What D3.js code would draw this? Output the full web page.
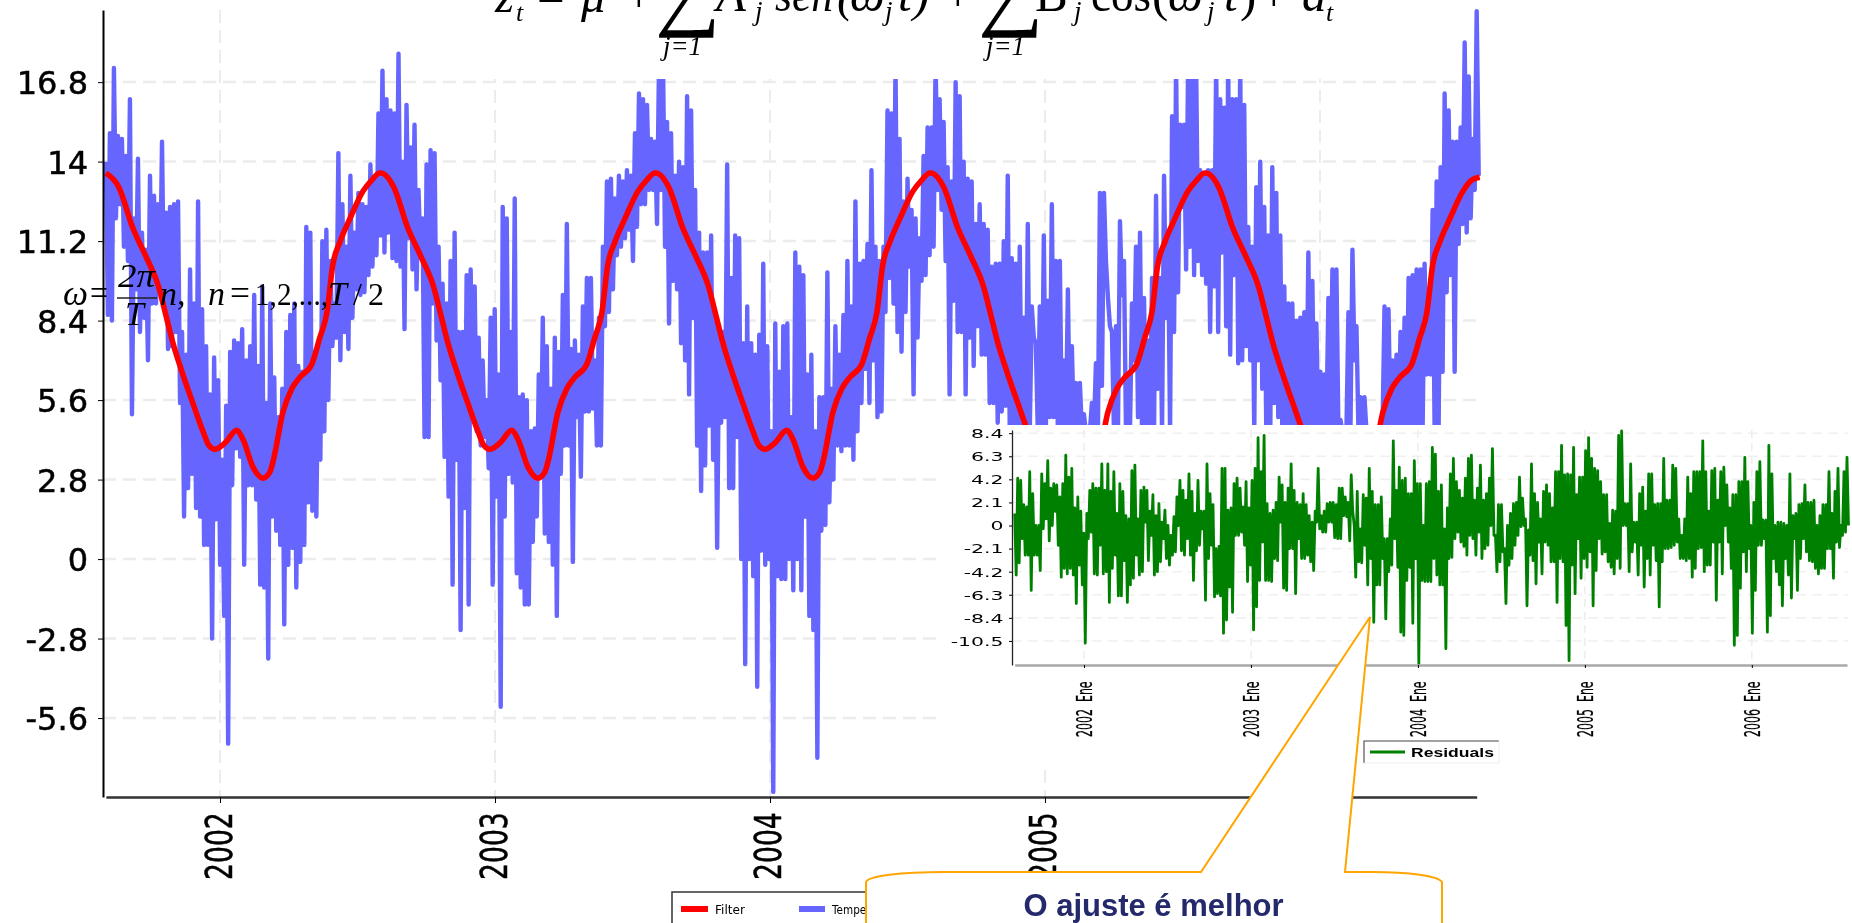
<!DOCTYPE html>
<html><head><meta charset="utf-8">
<script src="https://cdn.jsdelivr.net/npm/d3@7/dist/d3.min.js"></script>
<style>html,body{margin:0;background:#fff;overflow:hidden}svg{display:block;filter:blur(.45px)}</style>
</head><body><svg id="c" width="1852" height="923"></svg>
<script>
const mainYTicks=[-5.6,-2.8,0,2.8,5.6,8.4,11.2,14,16.8];
const mainYears=[2002,2003,2004,2005,2006];
const residualYTicks=[-10.5,-8.4,-6.3,-4.2,-2.1,0,2.1,4.2,6.3,8.4];
const residualYears=[2002,2003,2004,2005,2006];
const firstDate=2001.585, lastDate=2006.57;

// temperature envelope: successive upper and lower swings
const tempHigh=[
14,15,17.3,14.9,14.8,14.2,16.2,12,14.1,11.5,10.9,13.5,12.8,12.5,14.7,12.2,12.4,12.5,12.6,8,7.2,10.2,9,12.6,8.8,7.5,5.8,7.1,6.3,3.5,5.4,7.3,7.7,7.6,8.1,7,7.5,9.3,6.8,9.6,5.5,9,6.4,5,6,8,8.6,9,6.8,6.6,11.7,11.5,7.3,7.5,11.2,11.6,10.5,9,14.3,12.5,11,13.5,11.5,12.9,12.5,12.4,13.9,13.3,15.7,17.2,16.2,15.8,15.7,17.8,14,16,14.5,15.3,13,12,13.9,14.4,14.3,11,9.7,9,10.5,11.5,8,8,10,10.2,9.6,7.8,7,5.6,8.5,8.8,6.5,
12.4,12,8,12.7,5.7,5.8,5.6,4.5,4.6,6.5,8.5,7.5,6,7.8,7.3,9.3,11.8,7.4,7.7,7.2,8.9,9.9,9.9,7,8.5,11,13.3,13.4,12.7,13.5,13.3,13.7,13.5,15,16.4,16.2,16,14.8,14.7,17.5,17.5,15.4,15,13.5,14,13.8,16.3,15.8,13,11.5,10.8,10.8,11.4,8.5,8,8,13.9,9.9,11.4,11.3,7.6,8.9,7.6,7.2,7.9,10.4,7.5,4.5,8.3,6.6,8.2,8.3,5,10.8,10.3,10,6.5,7.2,4.5,5.7,5.7,10.1,6,8.2,7.2,8.6,10.5,8.9,12.6,10.4,10.5,11.1,13.7,11,10.5,11,15.8,15.7,17.5,14.8,12.6,13.4,12.3,12,11.3,14.2,15.2,15.2,17.5,16.2,15.4,13.8,
13.3,16.8,16.3,14,13.4,13.3,11.8,12.5,11.8,11.6,
10.3,10.4,10.4,11.2,13.5,10.6,10.4,11,8.5,11.8,
8.9,7.6,8.9,11.4,9.1,12.5,10.5,10.5,7,9.5,
7.5,6.2,6.2,5.1,4.5,5.5,6.9,12.9,12.9,9.2,
8,8.2,11.9,10.5,6.5,9,11,11.5,9.2,7.7,
9.9,12.8,9.9,13.5,11.5,15.6,17.5,15.3,15.3,17.5,
17.5,17.5,13.7,13.5,13.7,13.7,17.5,16.2,15.9,17.5,
16.2,16.2,17.5,16,11.7,11,13.1,14,12.4,11.4,
13.8,12.9,11.4,9.6,9,9,8.4,8.5,8.7,10.8,
9.8,8.3,6.6,6.5,9.2,10.2,10.2,4.9,4.5,8.7,
10.9,8.2,5.7,5.7,4.5,4.5,4.5,4.5,8.9,8.8,
7,7.2,8,8.5,9.9,10,10.2,10.2,10.4,9.4,
12.3,13.3,13.8,16.4,15.8,14.7,14.7,15.2,18.2,17,14.8,19.3];
const tempLow=[
8.6,8.4,12,12.5,11,10.5,5.1,9.5,8,8.5,7,9,9,9.5,9,7.4,7.5,8,5.5,1.5,2.5,3,1.8,1.5,.5,.5,-2.8,1.4,-.2,-2,-6.5,2.6,3.9,3.6,-.2,2.6,2.6,2.1,-.9,-1,-3.5,1.5,1,.5,-2.3,-.2,.4,-1,-.1,.5,2,1.7,1.5,3.5,4.5,5.6,7.5,7.8,7,8,7.4,8.5,9.5,9.3,9.4,10,10.3,10.7,11.4,10.8,11.5,10.6,10.5,10.3,8.1,11.3,10.2,9.5,10.6,4.3,4.3,9,7.7,6.3,3.6,2.2,-.9,3.5,-2.5,1.8,-1.6,5,4.5,4,4.3,3.2,-.9,2.2,-5.2,
1.5,3,2.7,-.5,-1,-1.6,-1.6,.6,1.5,2.9,.9,.6,-.2,-2,3,4,4,-.1,5,2.9,5.2,5.2,5.3,4,4,8.2,8.7,9.5,10.7,11,11.3,11.6,10.5,11.7,12.5,12.5,13,13,11.8,13,11,8.3,9.8,9.5,7.6,7,5.8,8.5,4,2.4,3.3,4.7,3.5,.4,4.8,5,2.5,2.5,4.3,0,-3.7,0,-.6,-4.5,.3,-.2,0,-8.2,-.6,-.7,-.7,0,-1.1,0,-1.1,1.5,-2,-2.5,-7,1,1.2,2,2.8,4,3.8,4,4,3.5,4.5,5.5,6.7,5.5,7,5,5.2,8.7,9.9,9,8,7.3,8.7,10.3,5.8,7.8,9.8,10,10.7,11,13,12.3,10.5,5.8,
9.1,8,8,5.8,7.8,6.8,8.2,7.2,7.2,5.5,
5.5,4.8,5.2,5.4,4.5,4.5,4.5,4.5,4.5,4.5,
7.8,4.5,4.5,4.5,5,5,4.5,4.5,4.5,4.5,
4.5,4.5,4.5,4.5,4.5,4.5,4.5,6.1,10.5,8.2,
4.5,4.5,9.3,4.5,4.5,7,5,4.5,4.5,4.5,
4.5,6,4.5,8.5,4.5,8,9.4,12.4,10.2,11,
10,10.5,10,9.7,8,9.6,8,10.8,8.2,7.2,
10,6.9,7,7.5,7,4.5,7,6,4.5,4.5,
5.5,5,4.5,4.5,4.5,4.5,4.5,4.5,4.5,4.5,
4.5,4.5,4.5,4.5,4.5,4.5,4.5,4.5,4.5,4.5,
7,4.5,4.5,4.5,4.5,4.5,4.5,4.5,4.5,4.5,
4.5,4.5,4.5,4.5,4.5,4.5,4.5,4.5,6.5,6.5,
4.5,4.5,6.6,9.4,10,6.6,11.1,11.8,11.5,12,13,13.5];

// filter curve: offsets within each yearly cycle, then the values read for the five cycles
const filterOffsets=[0,.047,.098,.145,.193,.218,.244,.28,.316,.353,.375,.396,.433,.476,.498,.535,.571,.596,.607,.644,.676,.705,.749,.778,.804,.825,.851,.887,.935,.967,.996];
const filterTemps=[
13.6,13.1,11.66,10.67,9.55,8.6,7.6,6.5,5.5,4.5,4,3.87,4.09,4.54,4.23,3.24,2.85,3.06,3.4,5.18,6,6.4,6.87,7.8,8.7,10.36,11.17,11.98,12.96,13.35,13.6,
13.6,13.1,11.66,10.67,9.55,8.6,7.6,6.5,5.5,4.5,4,3.87,4.09,4.54,4.23,3.24,2.85,3.06,3.4,5.18,6,6.4,6.87,7.8,8.7,10.36,11.17,11.98,12.96,13.35,13.6,
13.6,13.1,11.66,10.67,9.55,8.6,7.6,6.5,5.5,4.5,4,3.87,4.09,4.54,4.23,3.24,2.85,3.06,3.4,5.18,6,6.4,6.87,7.8,8.7,10.36,11.17,11.98,12.96,13.35,13.6,
13.6,13.1,11.66,10.67,9.55,8.6,7.6,6.5,5.5,4.5,4,3.87,4.09,4.54,4.23,3.24,2.85,3.06,3.4,5.18,6,6.4,6.87,7.8,8.7,10.36,11.17,11.98,12.96,13.35,13.6,
13.6,13.1,11.66,10.67,9.55,8.6,7.6,6.5,5.5,4.5,4,3.87,4.09,4.54,4.23,3.24,2.85,3.06,3.4,5.18,6,6.4,6.87,7.8,8.7,10.36,11.17,11.98,12.96,13.35,13.45];

const residHigh=[
1.1,4.3,4.1,1.9,1.7,4.9,2.9,0,0,4.7,3.8,5.9,3.4,3.8,3.7,2.6,3.8,6.4,4.4,5.2,1.6,2.6,1.3,-.7,1.1,3.2,3.8,3.4,3.4,5.6,3.2,5.6,3.1,4.9,1.1,3.8,3.1,.9,.6,5,5.5,.6,3.2,3.5,3.2,1.3,2.8,.9,2,.3,1.4,0,-.9,.8,2.6,4.1,3.2,2.3,4.7,3.1,1.1,4.1,1.3,1.3,5.6,2.9,1.9,-2.1,-1.9,5.2,5.2,1.4,1.6,3.8,4.3,3.4,1.7,4,1.6,4.1,5.2,8,4.9,8.2,2,1.1,1.4,2.1,4.4,3.7,2.1,3.4,5.6,3.2,2.1,1.9,2.9,1.9,.9,.3,1.3,5.2,.9,1.3,2,2.1,2.1,1.9,3.4,3.4,2.6,2.1,4.6,0,3.1,-.3,2.8,2.5,5.2,3.1,1.9,1.9,2.6,-1.2,-1.2,.6,7.7,3.2,5.3,4.1,4.3,2.9,2.9,5.9,3.8,3.8,0,3.8,
4,7.1,6.5,3.1,3.7,-.3,1.6,4.7,6.1,4,3.2,2.5,4.3,6.1,6.4,2.3,3.4,5.5,2.3,2.9,4.3,7,-.9,1.9,1.9,-2.1,0,1.1,2,2.1,4.4,2.5,.6,-.4,5.6,2.9,2.1,.6,3.1,3.7,2.9,1.6,4.9,4.9,7.3,4.6,4.7,4.6,7.1,2.8,4.4,4.4,6.8,8,6.1,5.2,5,4,2.8,2.8,.2,1.4,1.3,8.2,8.6,2,2,5.6,.3,.3,2.9,3.5,1.3,4.7,4.7,1.9,2,2,6.1,2.3,2.3,5.5,5.2,.6,-.9,.6,4.4,2.9,4.9,4.9,4.9,7.7,4.9,1.3,5,5.2,2.3,4.9,5.3,3.7,1.6,2.8,2.8,4,4,6.2,4,0,2.1,4.9,5.8,.5,.5,7.3,4.7,0,.3,.3,.2,0,4.7,.9,1.1,1.9,2,3.7,2.1,2.1,2.3,0,.9,1.9,1.9,4.9,1.1,3.1,5.2,0,4.9,6.2];
const residLow=[
-4.5,-3.4,-1.2,-2.7,-2.7,-5.9,-2.7,-2.7,-4.1,-.3,.6,-1.4,0,1.3,-1.8,-4.7,-3.9,-4.4,-3.9,-4.5,-7.1,-3.6,-5.4,-10.7,-1.2,-.6,-4.4,-4.5,-1.8,-4.4,-4.2,-7,-3.9,-2.7,-6.4,-6.4,-3.2,-7,-5.4,-4.8,-2.7,-4.5,-4.2,.3,-3.2,-.9,-4.5,-4.2,-3.3,-1.2,-3,-3.6,-2.7,-2.4,0,-2.3,-2.7,-1.2,-2.7,-5,-2.3,-1.8,-.3,-6.8,-3,-1.8,-6.5,-6.2,-6.4,-9.8,-8.6,-5.6,-7.9,-.9,-.9,-.6,-1.8,-5.1,-3.6,-9.5,-7.4,-5,-1.5,-5,-5,-5.1,-3,-3.2,.3,-5.7,-5.9,-2.1,-2.1,-6.2,-1.2,-3,-3,-2.7,-3.3,-4.1,.3,-.3,-.6,-.6,.3,.3,-1.1,-1.2,-1.2,.9,.8,-1.4,1.3,-4.7,-3.3,-3.4,-1.8,-5.4,-3,-8.8,-5.4,-5.4,-3,-8.5,-4.2,-3.6,-1.2,-3.8,-9.7,-10,-5,-3.8,-8.9,-3,-12.6,-5,-5.1,-5.1,
-5.1,-3,-4.5,-5.4,-5.4,-11.2,-3,-2.9,-1.2,-.6,-1.5,-1.9,-2.7,-.9,-1.2,-2.7,-.6,-3,-2.1,-1.8,0,-.9,-4.2,-3.3,-2.4,-7.1,-3.6,-3,-1.8,-.9,-.1,0,-7.3,-2.7,-3.2,-5.3,-1.5,-4.4,-1.5,-1.8,-3.3,-3.3,-7,-3,-3.3,-9.1,-12.3,-3.6,-6.2,-1.2,-4.8,-3,-3.8,-2.4,-7.3,-4.1,-1.2,-2.6,-2.4,-3.3,-3.8,-4.4,-3,-3.9,0,0,-4.2,-2.4,-1.5,-4.5,-1.8,-5.6,-3,-4.5,-1.8,-3.2,-7.4,-3.3,-2.1,-2.1,-2,-1.8,-1.5,-3,-3,-3.2,-3,-4.7,-3.9,-2.1,-2,-4.2,-3.6,-3.6,-1.5,-6.8,-1.5,-4.4,0,-1.5,-3.9,-10.9,-10,-5.7,-2.4,-4.2,-2.1,-9.8,-5.9,-1.8,-1.8,-1.2,-9.7,-8.2,-3,-4.2,-5.4,-7.3,-3,-4.5,-6.6,-1.2,-5.9,-3,-1.2,-2.4,-3.2,-3.3,-3.9,-4.4,-3.9,-3.9,-2.1,-2.1,-4.8,-1.5,-2,-.9,-.6,0];

const svg=d3.select('#c');
const SANS='"DejaVu Sans",sans-serif', SERIF='"Liberation Serif",serif', ARIAL='"Liberation Sans",Arial,sans-serif';

// ---- main chart ----
const x=d3.scaleLinear().domain([firstDate,lastDate]).range([105.9,1476.7]);
const y=d3.scaleLinear().domain([-8.38,19.34]).range([797,10]);
const gridColor='#ececec';
const g=svg.append('g');
g.append('g').selectAll('line').data(mainYTicks).join('line')
 .attr('x1',103).attr('x2',1478).attr('y1',d=>y(d)).attr('y2',d=>y(d))
 .attr('stroke',gridColor).attr('stroke-width',2.5).attr('stroke-dasharray','13 7');
g.append('g').selectAll('line').data(mainYears).join('line')
 .attr('y1',10).attr('y2',797).attr('x1',d=>x(d)).attr('x2',d=>x(d))
 .attr('stroke',gridColor).attr('stroke-width',2).attr('stroke-dasharray','13 7');

function zigzag(high,low,first,last){
  const n=Math.min(high.length,low.length), step=(last-first)/(n-1), pts=[];
  for(let i=0;i<n;i++){pts.push([first+i*step,high[i]]);pts.push([first+(i+.5)*step,low[i]]);}
  return pts;
}
const tempPts=zigzag(tempHigh,tempLow,firstDate,lastDate);
g.append('path').attr('d',d3.line().x(d=>x(d[0])).y(d=>y(d[1]))(tempPts))
 .attr('fill','none').attr('stroke','#6666ff').attr('stroke-width',4.4).attr('stroke-linejoin','round');

const filterPts=filterTemps.map((v,i)=>[firstDate+Math.floor(i/filterOffsets.length)+filterOffsets[i%filterOffsets.length],v]);
g.append('path').attr('d',d3.line().x(d=>x(d[0])).y(d=>y(d[1])).curve(d3.curveMonotoneX)(filterPts))
 .attr('fill','none').attr('stroke','#ff0000').attr('stroke-width',5.6).attr('stroke-linejoin','round');

// axes
const axL=g.append('g').attr('transform','translate(103,0)')
 .call(d3.axisLeft(y).tickValues(mainYTicks).tickFormat(String).tickSize(5).tickSizeOuter(0).tickPadding(10));
axL.select('.domain').attr('stroke','#000').attr('stroke-width',2);
axL.selectAll('text').attr('font-family',SANS).attr('font-size',32).attr('dy','.36em').attr('fill','#000').attr('stroke','#000').attr('stroke-width',.5);
const axB=g.append('g').attr('transform','translate(0,797)')
 .call(d3.axisBottom(x).tickValues(mainYears).tickFormat(String).tickSize(6).tickSizeOuter(0));
axB.select('.domain').attr('stroke','#333').attr('stroke-width',2.5);
axB.selectAll('text').attr('font-family',SANS).attr('font-size',37).attr('fill','#000').attr('stroke','#000').attr('stroke-width',.5)
 .attr('text-anchor','start').attr('x',0).attr('y',0).attr('dy',0)
 .attr('transform','translate(11,83) rotate(-90) scale(.72,1)');

// white plate behind the upper equation
svg.append('rect').attr('x',475).attr('y',0).attr('width',870).attr('height',79).attr('fill','#fff');

// upper equation: text, x, baseline, size, italic, optional fitted width
const eq=[['z',495,12,49,1],['t',516,21,26,1],['=',537,12,49,0],['μ',581,12,49,1],['+',625,12,49,0],
['∑',655,18,92,0],['A',716,11,49,1],['j',755,20,27,1],['sen',775,11,49,1,58],['(',837,11,49,1],['ω',850,11,49,1],['j',885,20,27,1],['t',898,11,49,1],[')',913,11,49,1],['+',944,11,49,0],
['∑',978,18,92,0],['B',1035,11,49,0],['j',1074,20,27,1],['cos',1091,11,49,0,60],['(',1152,11,49,0],['ω',1168,11,49,1],['j',1207,20,27,1],['t',1224,11,49,1],[')',1240,11,49,0],['+',1260,11,49,0],['a',1302,11,49,1],['t',1326,21,26,1],
['j=1',663,55,28,1,39],['j=1',986,55,28,1,39]];
svg.append('g').selectAll('text').data(eq).join('text').text(d=>d[0])
 .attr('x',d=>d[1]).attr('y',d=>d[2]).attr('font-size',d=>d[3]).attr('font-family',SERIF)
 .attr('font-style',d=>d[4]?'italic':'normal').attr('fill','#000')
 .attr('textLength',d=>d[5]||null).attr('lengthAdjust','spacingAndGlyphs');

// omega definition
const om=[['ω',63,305,36,1,25],['=',90,305,36,0,18],['2π',118,287,34,1,37],['T',125,325,34,1],['n,',160,305,34,1],['n',208,305,34,1],['=',230,305,36,0,20],['1,2,...,',255,305,32,0,73],['T',328,305,34,1],['/',353,305,32,0],['2',368,305,32,0]];
svg.append('g').selectAll('text').data(om).join('text').text(d=>d[0])
 .attr('x',d=>d[1]).attr('y',d=>d[2]).attr('font-size',d=>d[3]).attr('font-family',SERIF)
 .attr('font-style',d=>d[4]?'italic':'normal').attr('fill','#000')
 .attr('textLength',d=>d[5]||null).attr('lengthAdjust','spacingAndGlyphs');
svg.append('line').attr('x1',117).attr('x2',157).attr('y1',298).attr('y2',298).attr('stroke','#222').attr('stroke-width',1.4);

// main legend
const lg=svg.append('g');
lg.append('path').attr('d','M672,923V892H880').attr('fill','none').attr('stroke','#333').attr('stroke-width',1.5);
lg.append('rect').attr('x',681).attr('y',906).attr('width',27).attr('height',6).attr('fill','#ff0000');
lg.append('rect').attr('x',799).attr('y',906).attr('width',26).attr('height',6).attr('fill','#6666ff');
lg.append('text').text('Filter').attr('x',715).attr('y',914).attr('font-size',13).attr('font-family',SANS).attr('textLength',30).attr('lengthAdjust','spacingAndGlyphs');
lg.append('text').text('Temperature').attr('x',832).attr('y',914).attr('font-size',13).attr('font-family',SANS).attr('textLength',66).attr('lengthAdjust','spacingAndGlyphs');

// ---- residuals inset ----
svg.append('rect').attr('x',943).attr('y',425).attr('width',909).attr('height',341).attr('fill','#fff');
const rx=d3.scaleLinear().domain([firstDate,lastDate]).range([1014.7,1847]);
const ry=d3.scaleLinear().domain([-12.69,8.69]).range([665,430]);
const ins=svg.append('g');
ins.append('g').selectAll('line').data(residualYTicks).join('line')
 .attr('x1',1012).attr('x2',1848).attr('y1',d=>ry(d)).attr('y2',d=>ry(d))
 .attr('stroke','#f0f0f0').attr('stroke-width',1.6).attr('stroke-dasharray','10 6');
ins.append('g').selectAll('line').data(residualYears).join('line')
 .attr('y1',430).attr('y2',665).attr('x1',d=>rx(d)).attr('x2',d=>rx(d))
 .attr('stroke','#ececec').attr('stroke-width',1.4).attr('stroke-dasharray','8 5');
const resPts=zigzag(residHigh,residLow,firstDate,lastDate);
ins.append('path').attr('d',d3.line().x(d=>rx(d[0])).y(d=>ry(d[1]))(resPts))
 .attr('fill','none').attr('stroke','#008000').attr('stroke-width',2.8).attr('stroke-linejoin','round');
const rL=ins.append('g').attr('transform','translate(1012,0)')
 .call(d3.axisLeft(ry).tickValues(residualYTicks).tickFormat(String).tickSize(3).tickSizeOuter(0).tickPadding(0));
rL.select('.domain').attr('stroke','#222').attr('stroke-width',1.3);
rL.selectAll('text').attr('font-family',SANS).attr('font-size',12).attr('dy','.36em').attr('fill','#000')
 .attr('transform','scale(1.7,1)').attr('x',-5);
const rB=ins.append('g').attr('transform','translate(0,665)')
 .call(d3.axisBottom(rx).tickValues(residualYears).tickFormat(d=>d+'  Ene').tickSize(3).tickSizeOuter(0));
rB.select('.domain').attr('stroke','#a8a8a8').attr('stroke-width',2.4);
rB.selectAll('text').attr('font-family',SANS).attr('font-size',22).attr('fill','#000').attr('stroke','#000').attr('stroke-width',.3)
 .attr('text-anchor','start').attr('x',0).attr('y',0).attr('dy',0).style('white-space','pre')
 .attr('transform','translate(8,72) rotate(-90) scale(.5,1)');
// residuals legend
const rg=ins.append('g');
rg.append('path').attr('d','M1364,763V741H1499').attr('fill','none').attr('stroke','#444').attr('stroke-width',1.1);
rg.append('path').attr('d','M1499,741V763H1364').attr('fill','none').attr('stroke','#eee').attr('stroke-width',1);
rg.append('line').attr('x1',1370).attr('x2',1405).attr('y1',752).attr('y2',752).attr('stroke','#008000').attr('stroke-width',3);
rg.append('text').text('Residuals').attr('x',1411).attr('y',757).attr('font-size',13).attr('font-weight','bold').attr('font-family',ARIAL)
 .attr('textLength',83).attr('lengthAdjust','spacingAndGlyphs');

// ---- callout ----
svg.append('path').attr('d','M866,930V882C868,876 900,872 945,872H1201L1370,617L1345,872H1372C1410,872 1438,876 1442,882V930')
 .attr('fill','#fff').attr('stroke','#ffa500').attr('stroke-width',2);
svg.append('text').text('O ajuste é melhor').attr('x',1153.5).attr('y',916).attr('text-anchor','middle')
 .attr('font-family',ARIAL).attr('font-weight','bold').attr('font-size',31).attr('fill','#23296b');
</script></body></html>
